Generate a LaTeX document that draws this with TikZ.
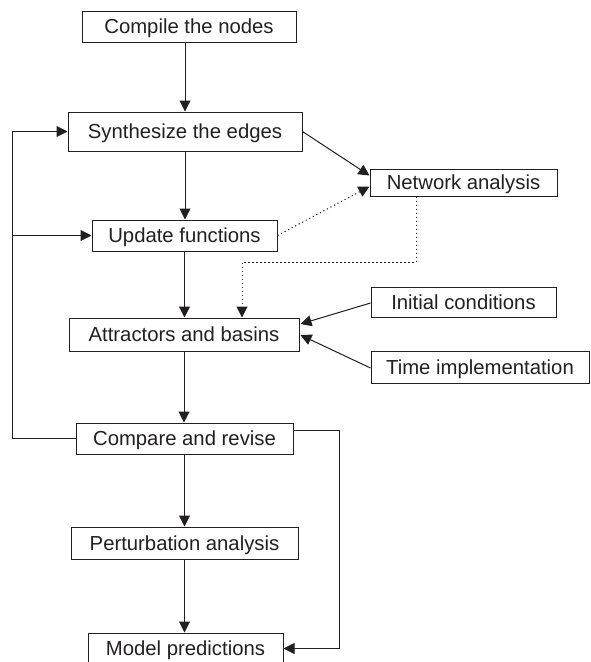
\documentclass[tikz,border=0pt]{standalone}
\usepackage{fontspec}
\setmainfont{Liberation Sans}
\usetikzlibrary{arrows.meta,calc}
\definecolor{ink}{RGB}{35,31,32}
\begin{document}
\begin{tikzpicture}[x=1pt,y=-1pt,
  box/.style={draw=ink,line width=1pt,rectangle,inner sep=0pt,text=ink,text height=14.3pt,text depth=0pt,font=\fontsize{20.3}{24}\selectfont},
  arr/.style={draw=ink,line width=1pt,-{Triangle[length=11pt,width=11pt]}},
  ln/.style={draw=ink,line width=1pt},
  dotarr/.style={arr,dash pattern=on 1.2pt off 2.8pt},
  dotln/.style={ln,dash pattern=on 1.2pt off 2.8pt}]
\useasboundingbox (0,0) rectangle (591,662);
\clip (0,0) rectangle (591,662);
% main column
\node[box,minimum width=214pt,minimum height=31pt] (compile) at (189,26.5) {Compile the nodes};
\node[box,minimum width=234pt,minimum height=39pt] (synth) at (185,131.5) {Synthesize the edges};
\node[box,minimum width=185pt,minimum height=31pt] (update) at (184.5,235.5) {Update functions};
\node[box,minimum width=230pt,minimum height=33pt] (attr) at (184,334.5) {Attractors and basins};
\node[box,minimum width=217pt,minimum height=31pt] (compare) at (184.5,438.5) {Compare and revise};
\node[box,minimum width=227pt,minimum height=32pt] (perturb) at (184.5,543) {Perturbation analysis};
\node[box,minimum width=195pt,minimum height=31pt] (model) at (185.5,648.5) {Model predictions};
% side boxes
\node[box,minimum width=187pt,minimum height=27pt] (net) at (463.5,182.5) {Network analysis};
\node[box,minimum width=185pt,minimum height=30pt] (init) at (463.5,302) {Initial conditions};
\node[box,minimum width=218pt,minimum height=32pt] (time) at (480,367) {Time implementation};
% helper coordinates
\coordinate (lft) at (12,0);
\coordinate (ce) at ($(compare.east)+(0,-8.5)$);
\coordinate (rgt) at (339,0);
\coordinate (dotx) at (242,262);
% main flow
\draw[arr] (compile.south -| synth.north) -- (synth.north);
\draw[arr] (synth.south) -- (synth.south |- update.north);
\draw[arr] (update.south) -- (update.south |- attr.north);
\draw[arr] (attr.south) -- (attr.south |- compare.north);
\draw[arr] (compare.south) -- (compare.south |- perturb.north);
\draw[arr] (perturb.south) -- (perturb.south |- model.north);
% feedback left
\draw[arr] (compare.west) -- (compare.west -| lft) |- (synth.west);
\draw[arr] (update.west -| lft) -- (update.west);
% right loop to model predictions
\draw[arr] (ce) -- (ce -| rgt) |- (model.east);
% to network analysis
\draw[arr] (synth.east) -- ($(net.west)+(0,-7)$);
\draw[dotarr] (update.east) -- ($(net.west)+(0,4)$);
\draw[dotarr] ($(net.south)+(-47.5,0)$) |- (dotx) -- (dotx |- attr.north);
% into attractors
\draw[arr] ($(init.west)+(0,1)$) -- ($(attr.east)+(1,-10.5)$);
\draw[arr] ($(time.west)+(0,1)$) -- ($(attr.east)+(1,0.5)$);
\end{tikzpicture}
\end{document}
